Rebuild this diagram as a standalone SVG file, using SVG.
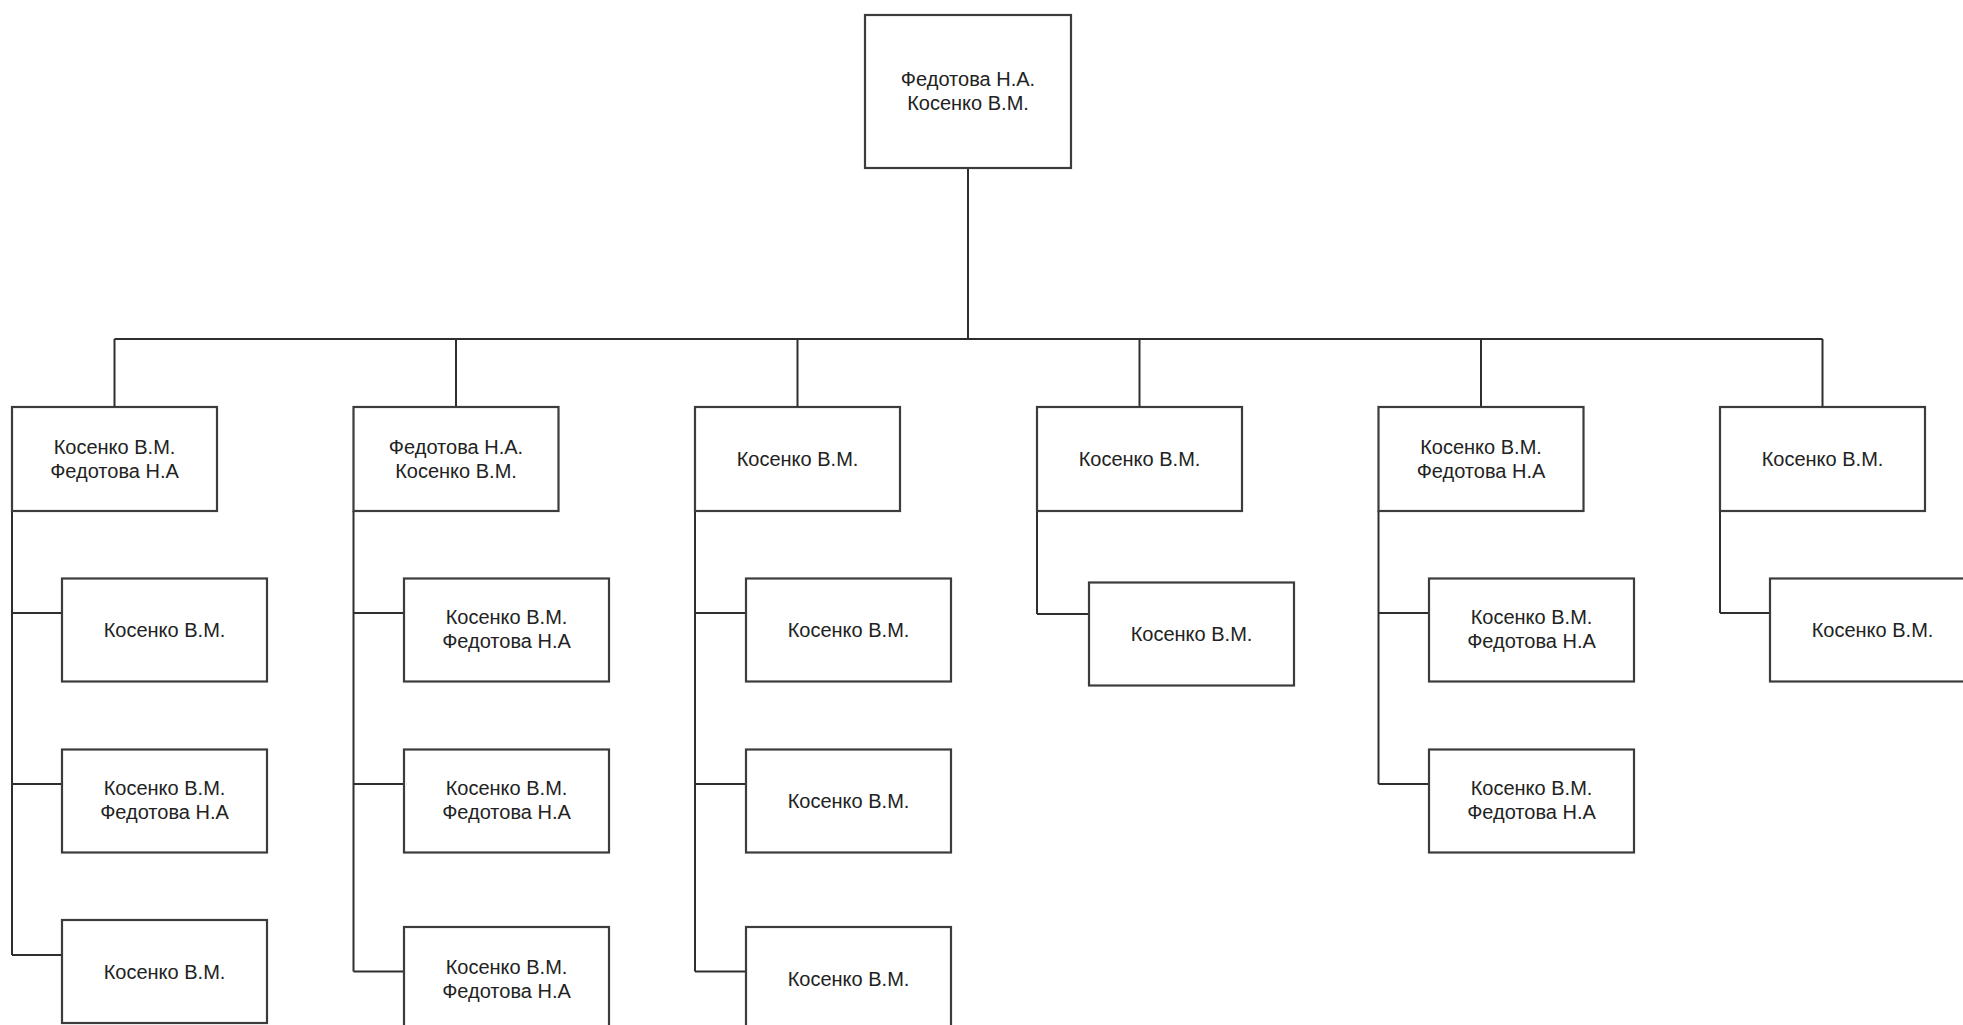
<svg xmlns="http://www.w3.org/2000/svg" width="1963" height="1025" viewBox="0 0 1963 1025">
<style>
.box{fill:#ffffff;stroke:#3c3c3c;stroke-width:2.2}
.sh{fill:none;stroke:#9a9a9a;stroke-width:1.2}
.t{font-family:"Liberation Sans",Arial,sans-serif;font-size:20px;fill:#222222;text-anchor:middle}
.c{fill:none;stroke:#2e2e2e;stroke-width:2}
</style>
<rect x="0" y="0" width="1963" height="1025" fill="#ffffff"/>
<g id="connectors">
<path class="c" d="M968 168V339M114.5 339H1822.5M114.5 339V407M456 339V407M797.5 339V407M1139.5 339V407M1481 339V407M1822.5 339V407"/>
<path class="c" d="M12 511V955M12 613H62M12 784H62M12 955H62"/>
<path class="c" d="M353.5 511V971.5M353.5 613H404M353.5 784H404M353.5 971.5H404"/>
<path class="c" d="M695 511V971.5M695 613H746M695 784H746M695 971.5H746"/>
<path class="c" d="M1037 476V614M1037 614H1089"/>
<path class="c" d="M1378.5 511V784M1378.5 613H1429M1378.5 784H1429"/>
<path class="c" d="M1720 476V613M1720 613H1770"/>
</g>
<g id="root"><rect class="box" x="865" y="15" width="206" height="153"/><text class="t" x="968" y="86">Федотова Н.А.</text><text class="t" x="968" y="110">Косенко В.М.</text></g>
<g id="n1"><rect class="box" x="12" y="407" width="205" height="104"/><text class="t" x="114.5" y="453.5">Косенко В.М.</text><text class="t" x="114.5" y="477.5">Федотова Н.А</text></g>
<g id="n2"><rect class="box" x="353.5" y="407" width="205" height="104"/><text class="t" x="456" y="453.5">Федотова Н.А.</text><text class="t" x="456" y="477.5">Косенко В.М.</text></g>
<g id="n3"><rect class="box" x="695" y="407" width="205" height="104"/><text class="t" x="797.5" y="466">Косенко В.М.</text></g>
<g id="n4"><rect class="box" x="1037" y="407" width="205" height="104"/><text class="t" x="1139.5" y="466">Косенко В.М.</text></g>
<g id="n5"><rect class="box" x="1378.5" y="407" width="205" height="104"/><text class="t" x="1481" y="453.5">Косенко В.М.</text><text class="t" x="1481" y="477.5">Федотова Н.А</text></g>
<g id="n6"><rect class="box" x="1720" y="407" width="205" height="104"/><text class="t" x="1822.5" y="466">Косенко В.М.</text></g>
<g id="n1a"><rect class="box" x="62" y="578.5" width="205" height="103"/><text class="t" x="164.5" y="637">Косенко В.М.</text></g>
<g id="n1b"><rect class="box" x="62" y="749.5" width="205" height="103"/><text class="t" x="164.5" y="795">Косенко В.М.</text><text class="t" x="164.5" y="819">Федотова Н.А</text></g>
<g id="n1c"><rect class="box" x="62" y="920" width="205" height="103"/><text class="t" x="164.5" y="978.5">Косенко В.М.</text></g>
<g id="n2a"><rect class="box" x="404" y="578.5" width="205" height="103"/><text class="t" x="506.5" y="624">Косенко В.М.</text><text class="t" x="506.5" y="648">Федотова Н.А</text></g>
<g id="n2b"><rect class="box" x="404" y="749.5" width="205" height="103"/><text class="t" x="506.5" y="795">Косенко В.М.</text><text class="t" x="506.5" y="819">Федотова Н.А</text></g>
<g id="n2c"><rect class="box" x="404" y="927" width="205" height="103"/><text class="t" x="506.5" y="973.5">Косенко В.М.</text><text class="t" x="506.5" y="997.5">Федотова Н.А</text></g>
<g id="n3a"><rect class="box" x="746" y="578.5" width="205" height="103"/><text class="t" x="848.5" y="637">Косенко В.М.</text></g>
<g id="n3b"><rect class="box" x="746" y="749.5" width="205" height="103"/><text class="t" x="848.5" y="808">Косенко В.М.</text></g>
<g id="n3c"><rect class="box" x="746" y="927" width="205" height="103"/><text class="t" x="848.5" y="986">Косенко В.М.</text></g>
<g id="n4a"><rect class="box" x="1089" y="582.5" width="205" height="103"/><text class="t" x="1191.5" y="641">Косенко В.М.</text></g>
<g id="n5a"><rect class="box" x="1429" y="578.5" width="205" height="103"/><text class="t" x="1531.5" y="624">Косенко В.М.</text><text class="t" x="1531.5" y="648">Федотова Н.А</text></g>
<g id="n5b"><rect class="box" x="1429" y="749.5" width="205" height="103"/><text class="t" x="1531.5" y="795">Косенко В.М.</text><text class="t" x="1531.5" y="819">Федотова Н.А</text></g>
<g id="n6a"><rect class="box" x="1770" y="578.5" width="205" height="103"/><text class="t" x="1872.5" y="637">Косенко В.М.</text></g>
</svg>
